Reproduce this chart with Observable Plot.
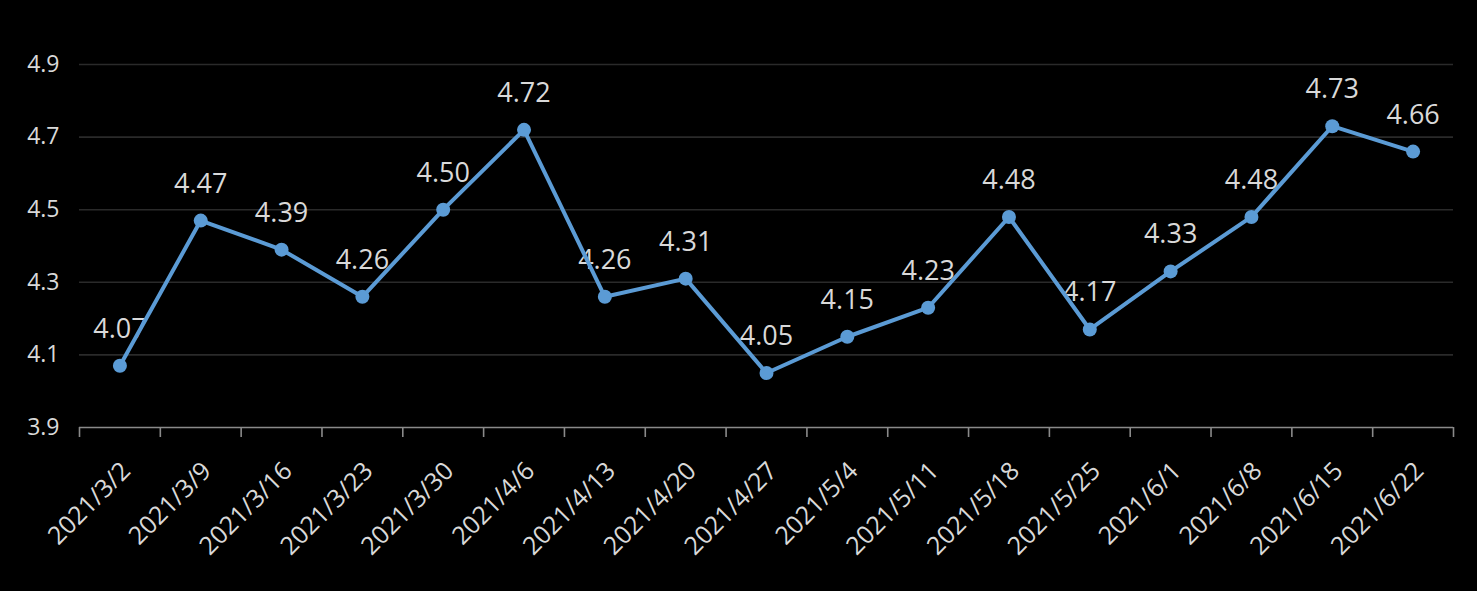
<!DOCTYPE html>
<html>
<head>
<meta charset="utf-8">
<script src="https://cdn.jsdelivr.net/npm/d3@7"></script>
<script src="https://cdn.jsdelivr.net/npm/@observablehq/plot@0.6"></script>
<style>
  html, body { margin: 0; padding: 0; background: #000; }
  #chart svg { display: block; }
</style>
</head>
<body>
<div id="chart"></div>
<script>
const categories = ["2021/3/2","2021/3/9","2021/3/16","2021/3/23","2021/3/30","2021/4/6","2021/4/13","2021/4/20","2021/4/27","2021/5/4","2021/5/11","2021/5/18","2021/5/25","2021/6/1","2021/6/8","2021/6/15","2021/6/22"];
const values = [4.07,4.47,4.39,4.26,4.50,4.72,4.26,4.31,4.05,4.15,4.23,4.48,4.17,4.33,4.48,4.73,4.66];
const yTicks = [3.9,4.1,4.3,4.5,4.7,4.9];

const data = categories.map((c, i) => ({cat: c, i: i + 0.5, v: values[i]}));
const font = "'Open Sans', 'Noto Sans', sans-serif";

const chart = Plot.plot({
  width: 1477,
  height: 591,
  marginLeft: 79,
  marginRight: 24,
  marginTop: 64,
  marginBottom: 164,
  style: {background: "#000", color: "#d9d9d9", fontFamily: font},
  x: {type: "linear", domain: [0, categories.length]},
  y: {domain: [3.9, 4.9]},
  marks: [
    Plot.gridY(yTicks.slice(1), {stroke: "#2a2a2a", strokeOpacity: 1, strokeWidth: 1.6}),
    Plot.axisY(yTicks, {tickSize: 0, tickPadding: 20, fontSize: 23, fill: "#d9d9d9", tickFormat: d => d.toFixed(1), label: null}),
    Plot.ruleY([3.9], {stroke: "#8a8a8a", strokeWidth: 1.6}),
    Plot.axisX(d3.range(categories.length + 1), {tickSize: 10, stroke: "#8a8a8a", strokeWidth: 1.6, tickFormat: () => "", label: null}),
    Plot.text(data, {x: "i", text: "cat", frameAnchor: "bottom", rotate: -45, textAnchor: "end", lineAnchor: "bottom", dx: 12, dy: 45, fontSize: 25, fill: "#d9d9d9"}),
    Plot.text(data, {x: "i", y: "v", text: d => d.v.toFixed(2), dy: -28, lineAnchor: "bottom", fontSize: 27, fill: "#d9d9d9"}),
    Plot.line(data, {x: "i", y: "v", stroke: "#5b9bd5", strokeWidth: 4}),
    Plot.dot(data, {x: "i", y: "v", r: 7, fill: "#5b9bd5", stroke: "none"})
  ]
});
document.getElementById("chart").appendChild(chart);
</script>
</body>
</html>
